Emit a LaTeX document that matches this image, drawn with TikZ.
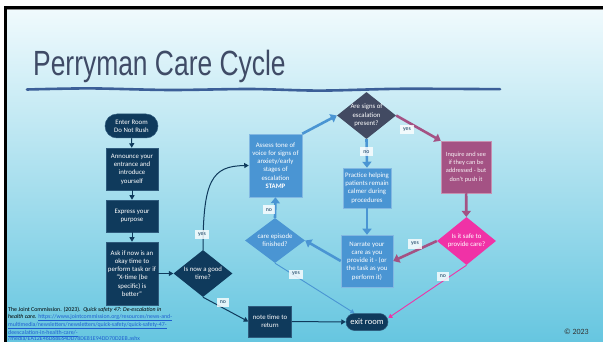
\documentclass[tikz,border=0pt]{standalone}
\usepackage{fontspec}
\setmainfont{Carlito}
\newfontfamily\titlefont{Liberation Sans}
\usetikzlibrary{shapes.geometric,shapes.misc,arrows.meta,calc}

\definecolor{navy}{HTML}{0F3A5C}
\definecolor{navyedge}{HTML}{2E5A7C}
\definecolor{midblue}{HTML}{4A95D3}
\definecolor{midedge}{HTML}{82B8E2}
\definecolor{slate}{HTML}{424A62}
\definecolor{mauve}{HTML}{A45284}
\definecolor{mauveedge}{HTML}{C790B0}
\definecolor{hotpink}{HTML}{F032A6}
\definecolor{titleink}{HTML}{3F4B66}
\definecolor{wave}{HTML}{3C5F98}
\definecolor{bgtop}{HTML}{F0FAFD}
\definecolor{bgmid}{HTML}{A8DFEE}
\definecolor{bgbot}{HTML}{66C6E0}
\definecolor{linkblue}{HTML}{1F5FD0}

\tikzset{
  nodetext/.style={font=\fontsize{6.8}{8.3}\selectfont, align=center, inner sep=0pt},
  navybox/.style={rectangle, fill=navy, draw=navyedge, line width=0.5pt, text=white, nodetext},
  bluebox/.style={rectangle, fill=midblue, draw=midedge, line width=0.5pt, text=white, nodetext},
  mauvebox/.style={rectangle, fill=mauve, draw=mauveedge, line width=0.5pt, text=white!92!mauve, nodetext},
  pill/.style={rounded rectangle, fill=navy, draw=navyedge, line width=0.5pt, text=white, nodetext},
  dia/.style={diamond, inner sep=0pt, draw=none},
  diatext/.style={nodetext, text=white},
  elbl/.style={fill=white, fill opacity=0.8, text opacity=1, text=navy,
    font=\fontsize{5.8}{6}\selectfont, inner xsep=3pt, inner ysep=1.5pt, minimum height=9pt},
  navyarrow/.style={draw=navy, line width=1pt, -{Triangle[length=4.5pt,width=5pt]}},
  bluearrow/.style={draw=midblue, line width=2.6pt, -{Triangle[length=6pt,width=9pt]}},
  bluethin/.style={draw=midblue, line width=0.9pt, -{Triangle[length=4pt,width=4.5pt]}},
  mauvearrow/.style={draw=mauve, line width=2.6pt, -{Triangle[length=6pt,width=9pt]}},
  pinkthin/.style={draw=hotpink, line width=0.9pt, -{Triangle[length=4pt,width=4.5pt]}},
}

\begin{document}
\begin{tikzpicture}[x=1pt,y=-1pt]
\useasboundingbox (0,0) rectangle (603,342);

% slide frame and background
\fill[white] (0,0) rectangle (603,342);
\shade[top color=bgtop, middle color=bgmid, bottom color=bgbot] (7,9) rectangle (603,342);
\fill[black] (4,6) rectangle (603,9);
\fill[black] (4,6) rectangle (7,342);
\fill[black!45] (7,9) rectangle (603,10);

% title and brush underline
\node[anchor=base west, inner sep=0pt, text=titleink,
      font=\titlefont\fontsize{35}{35}\selectfont, xscale=0.755] (title) at (33,76) {Perryman Care Cycle};
\draw[wave, line width=2.6pt, line cap=round]
  plot[smooth] coordinates {(27,89.5) (90,88.4) (170,90) (250,89) (320,90.6) (400,88.8) (500,89.2)};

% left column
\node[pill, minimum width=53pt, minimum height=24pt] (enter) at (131.5,126) {Enter Room\\Do Not Rush};
\node[navybox, minimum width=52pt, minimum height=42pt] (announce) at (132,169) {Announce your\\entrance and\\introduce\\yourself};
\node[navybox, minimum width=52pt, minimum height=32pt] (express) at (132,216) {Express your\\purpose};
\node[navybox, minimum width=52pt, minimum height=63pt] (ask) at (132,273.5) {Ask if now is an\\okay time to\\perform task or if\\“X-time (be\\specific) is\\better”};
\node[dia, fill=navy, minimum width=59pt, minimum height=47pt,
      label={[diatext]center:{Is now a good\\time?}}] (good) at (203,273.5) {};
\node[navybox, minimum width=43pt, minimum height=31pt] (note) at (270,321.5) {note time to\\return};
\node[pill, minimum width=42pt, minimum height=17pt, font=\fontsize{8.5}{9}\selectfont] (exit) at (367,322) {exit room};

% cycle
\node[bluebox, minimum width=53pt, minimum height=63pt] (assess) at (275.5,165.5) {Assess tone of\\voice for signs of\\anxiety/early\\stages of\\escalation\\\textbf{STAMP}};
\node[dia, fill=midblue, minimum width=60pt, minimum height=45pt,
      label={[diatext]center:{care episode\\finished?}}] (ep) at (275,240.5) {};
\node[dia, fill=slate, minimum width=59pt, minimum height=47pt,
      label={[diatext]center:{Are signs of\\escalation\\present?}}] (esc) at (366.5,115.5) {};
\node[bluebox, minimum width=48pt, minimum height=40pt] (practice) at (367,188) {Practice helping\\patients remain\\calmer during\\procedures};
\node[bluebox, minimum width=52pt, minimum height=52pt] (narrate) at (367,261) {Narrate your\\care as you\\provide it - (or\\the task as you\\perform it)};
\node[mauvebox, minimum width=50pt, minimum height=52pt, font=\fontsize{6.4}{8.3}\selectfont] (inquire) at (466,167) {Inquire and see\\if they can be\\addressed - but\\don’t push it};
\node[dia, fill=hotpink, minimum width=59pt, minimum height=48pt,
      label={[diatext]center:{Is it safe to\\provide care?}}] (safe) at (466.5,241) {};

% connectors
\draw[navyarrow] (enter) -- (announce);
\draw[navyarrow] (announce) -- (express);
\draw[navyarrow] (express) -- (ask);
\draw[navyarrow] (ask) -- (good);
\draw[navyarrow] (good.north) .. controls (203,180) and (212,166) .. (assess.west);
\draw[navyarrow] (good.south) -- (note.west);
\draw[navyarrow] (note) -- (exit);
\draw[bluearrow] (assess.north east) -- (esc.west);
\draw[bluearrow] (esc.south) -- (practice.north);
\draw[bluearrow] (practice) -- (narrate);
\draw[bluearrow] (narrate.west) -- (ep.east);
\draw[bluearrow] (ep.north) -- (assess.south);
\draw[bluethin] (ep.south) -- (exit.north west);
\draw[mauvearrow] (esc.east) -- (inquire.north west);
\draw[mauvearrow] (inquire) -- (safe);
\draw[mauvearrow] (safe.west) -- (narrate.east);
\draw[pinkthin] (safe.south) -- ($(exit.east)+(0,-4)$);

% connector labels
\node[elbl] (lyesgood) at (202,235) {yes};
\node[elbl] (lnogood) at (223,302) {no};
\node[elbl] (lnoesc) at (366.5,152) {no};
\node[elbl] (lnoep) at (269,210) {no};
\node[elbl] (lyesep) at (296,274) {yes};
\node[elbl] (lyesesc) at (407,130) {yes};
\node[elbl] (lyessafe) at (415,244) {yes};
\node[elbl] (lnosafe) at (443,276) {no};

% reference and copyright
\node[anchor=north west, inner sep=0pt, align=left, text=black,
      font=\fontsize{5.9}{6.5}\selectfont] (cite) at (8,307) {\lineskiplimit=-20pt\lineskip=0pt%
The Joint Commission. (2023).\ \ \textit{Quick safety 47: De-escalation in}\\
\textit{health care.} \textcolor{linkblue}{\underline{https://www.jointcommission.org/resources/news-and-}}\\
\textcolor{linkblue}{\underline{multimedia/newsletters/newsletters/quick-safety/quick-safety-47-}}\\
\textcolor{linkblue}{\underline{deescalation-in-health-care/-}}\\
\textcolor{linkblue}{\underline{/media/EA12E46D68E64DD78DE81E94DD70D2EB.ashx}}};
\node[anchor=base east, inner sep=0pt, text=black!80, font=\fontsize{8}{9}\selectfont] (copy) at (589,334) {© 2023};
\end{tikzpicture}
\end{document}
